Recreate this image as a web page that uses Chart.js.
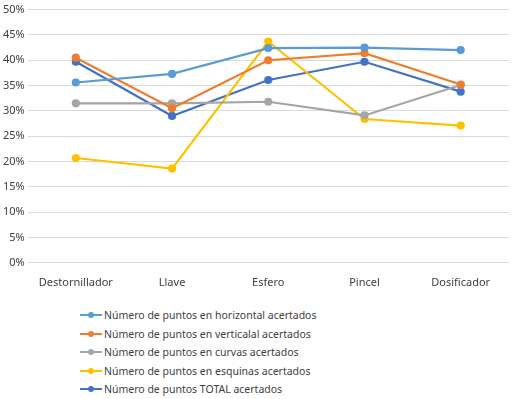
<!DOCTYPE html>
<html>
<head>
<meta charset="utf-8">
<script src="https://cdn.jsdelivr.net/npm/chart.js@4/dist/chart.umd.min.js"></script>
<style>
  html, body { margin: 0; padding: 0; background: #fff; }
  #wrap { position: relative; width: 514px; height: 399px; }
  #chartBox { position: absolute; left: 0; top: 0; width: 514px; height: 294px; }
  #legend { position: absolute; left: 80px; top: 306px; font-family: "Noto Sans", sans-serif; font-size: 10.5px; color: #404040; }
  #legend .item { display: flex; align-items: center; height: 18.5px; }
  #legend .swatch { position: relative; width: 22px; height: 10px; margin-right: 2px; }
  #legend .swatch .ln { position: absolute; left: 0; top: 4px; width: 22px; height: 2px; }
  #legend .swatch .dt { position: absolute; left: 7.5px; top: 2px; width: 6px; height: 6px; border-radius: 50%; }
</style>
</head>
<body>
<div id="wrap">
  <div id="chartBox"><canvas id="chart"></canvas></div>
  <div id="legend"></div>
</div>
<script>
const categories = ['Destornillador', 'Llave', 'Esfero', 'Pincel', 'Dosificador'];
const seriesNames = [
  'Número de puntos en horizontal acertados',
  'Número de puntos en verticalal acertados',
  'Número de puntos en curvas acertados',
  'Número de puntos en esquinas acertados',
  'Número de puntos TOTAL acertados'
];
const horizontal = [0.356, 0.373, 0.424, 0.425, 0.420];
const vertical = [0.405, 0.305, 0.400, 0.414, 0.352];
const curvas = [0.315, 0.315, 0.318, 0.291, 0.351];
const esquinas = [0.207, 0.186, 0.437, 0.284, 0.271];
const total = [0.397, 0.290, 0.361, 0.397, 0.338];
const colors = ['#5B9BD5', '#ED7D31', '#A5A5A5', '#FFC000', '#4472C4'];

const values = [horizontal, vertical, curvas, esquinas, total];
const datasets = values.map((v, i) => ({
  label: seriesNames[i],
  data: v,
  borderColor: colors[i],
  backgroundColor: colors[i],
  borderWidth: 2.2,
  pointRadius: 3,
  pointHoverRadius: 3,
  tension: 0
}));

const chart = new Chart(document.getElementById('chart'), {
  type: 'line',
  data: { labels: categories, datasets },
  options: {
    responsive: true,
    maintainAspectRatio: false,
    animation: false,
    layout: { padding: { top: 0, right: 2, left: 0, bottom: 0 } },
    scales: {
      x: {
        offset: true,
        grid: { display: false },
        border: { display: false },
        ticks: { color: '#404040', font: { family: 'Noto Sans', size: 11 }, padding: 5 }
      },
      y: {
        min: 0,
        max: 0.5,
        ticks: {
          stepSize: 0.05,
          color: '#404040',
          font: { family: 'Noto Sans', size: 11 },
          padding: 3,
          callback: v => Math.round(v * 100) + '%'
        },
        grid: { color: '#D9D9D9', lineWidth: 1, drawTicks: false },
        border: { display: false }
      }
    },
    plugins: {
      legend: { display: false },
      tooltip: { enabled: false }
    }
  }
});

// build the legend from the datasets
const legendEl = document.getElementById('legend');
chart.data.datasets.forEach(ds => {
  const item = document.createElement('div');
  item.className = 'item';
  item.innerHTML = '<span class="swatch"><span class="ln" style="background:' + ds.borderColor +
    '"></span><span class="dt" style="background:' + ds.borderColor + '"></span></span><span>' +
    ds.label + '</span>';
  legendEl.appendChild(item);
});
</script>
</body>
</html>
